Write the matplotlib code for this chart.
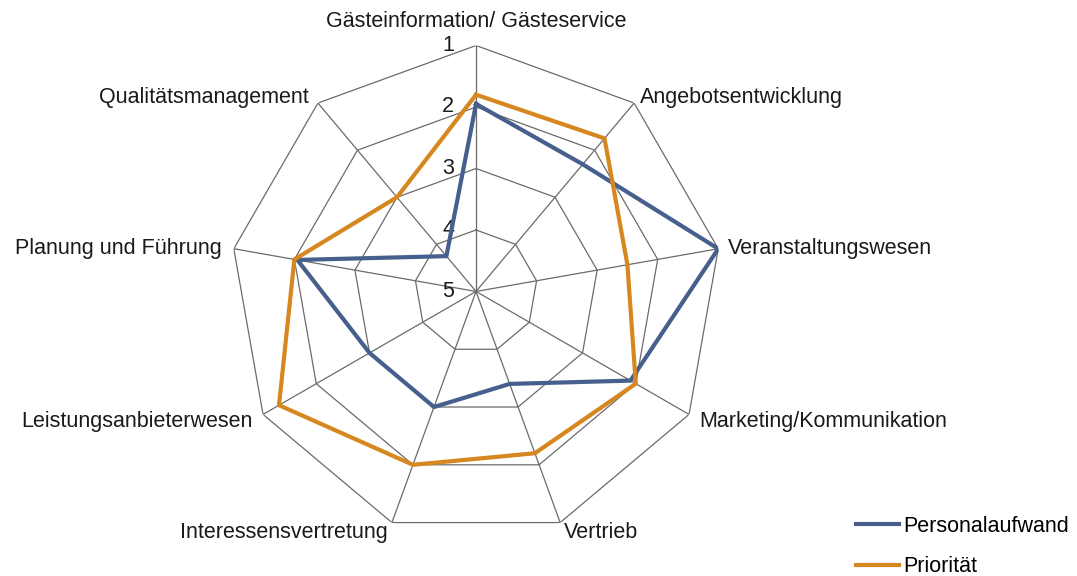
import matplotlib.pyplot as plt
import numpy as np
from matplotlib.lines import Line2D

plt.rcParams['font.family'] = ['Liberation Sans', 'DejaVu Sans']

# categories (clockwise from top)
kategorien = ['Gästeinformation/ Gästeservice', 'Angebotsentwicklung', 'Veranstaltungswesen',
              'Marketing/Kommunikation', 'Vertrieb', 'Interessensvertretung',
              'Leistungsanbieterwesen', 'Planung und Führung', 'Qualitätsmanagement']
personalaufwand = [1.95, 2.3, 1.0, 2.1, 3.4, 3.0, 3.0, 2.05, 4.25]
prioritaet = [1.8, 1.75, 2.5, 2.0, 2.2, 2.0, 1.3, 2.0, 3.0]
skala = [1, 2, 3, 4, 5]

blau = '#465F8C'
orange = '#D6871F'
grau = '#6b6b6b'
fs = 15.5

n = len(kategorien)
winkel = np.linspace(0, 2 * np.pi, n, endpoint=False)
w = np.append(winkel, winkel[0])

def r(v):
    # skala umgedreht: 1 aussen, 5 in der mitte
    return 5 - np.asarray(v, dtype=float)

fig = plt.figure(figsize=(10.77, 5.76), dpi=100)
ax = fig.add_axes([0.2136, 0.067, 0.4568, 0.854], projection='polar')
ax.set_theta_offset(np.pi / 2)
ax.set_theta_direction(-1)
ax.set_ylim(0, 4)
ax.axis('off')

# polygon-gitter
for s in skala[:-1]:
    ax.plot(w, np.full(len(w), r(s)), color=grau, lw=0.9, zorder=1)
for a in winkel:
    ax.plot([a, a], [0, r(1)], color=grau, lw=0.9, zorder=1)

# skalen-beschriftung
for s in skala:
    ax.annotate(str(s), xy=(0, r(s)), xytext=(-22, 0), textcoords='offset pixels',
                ha='right', va='center', fontsize=fs, color='#1a1a1a')

ax.plot(w, r(np.append(personalaufwand, personalaufwand[0])), color=blau, lw=3, zorder=3,
        solid_joinstyle='miter')
ax.plot(w, r(np.append(prioritaet, prioritaet[0])), color=orange, lw=3, zorder=4,
        solid_joinstyle='miter')

# kategorie-beschriftung
versatz = [(0, 24, 'center'), (6, 6, 'left'), (10, 0, 'left'), (10, -7, 'left'), (4, -10, 'left'),
           (-4, -10, 'right'), (-10, -7, 'right'), (-12, 0, 'right'), (-9, 6, 'right')]
for a, k, (dx, dy, ha) in zip(winkel, kategorien, versatz):
    ax.annotate(k, xy=(a, r(1)), xytext=(dx, dy), textcoords='offset pixels',
                ha=ha, va='center', fontsize=fs, color='#1a1a1a', annotation_clip=False)

handles = [Line2D([], [], color=blau, lw=3), Line2D([], [], color=orange, lw=3)]
fig.legend(handles, ['Personalaufwand', 'Priorität'], loc='lower left',
           bbox_to_anchor=(0.795, -0.002), frameon=False, fontsize=fs,
           handlelength=2.0, handletextpad=0.19, labelspacing=0.91,
           borderpad=0, borderaxespad=0)

fig.savefig('out.png', dpi=100)
